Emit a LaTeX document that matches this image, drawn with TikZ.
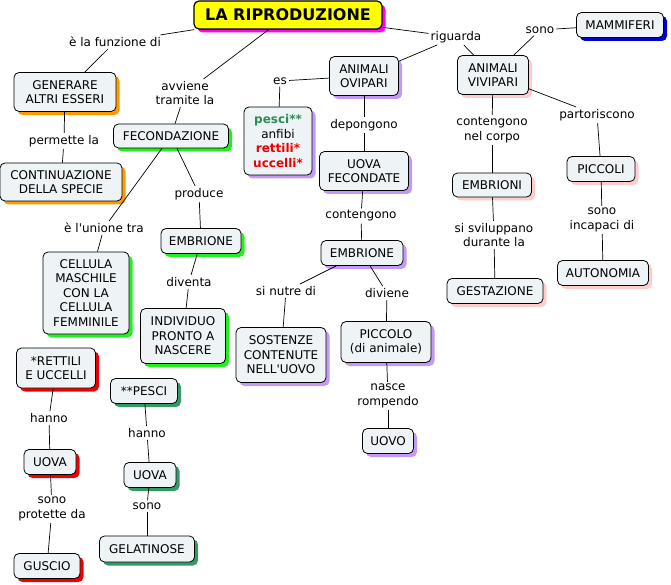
\documentclass[tikz,border=0pt]{standalone}
\usepackage{fontspec}
\setmainfont{DejaVu Sans}
\usetikzlibrary{shadows}
\definecolor{boxfill}{HTML}{EEF3F6}
\definecolor{shorange}{HTML}{FF9900}
\definecolor{shgreen}{HTML}{22EE22}
\definecolor{shpurple}{HTML}{C299F5}
\definecolor{shpink}{HTML}{FFCCCC}
\definecolor{shblue}{HTML}{0000CC}
\definecolor{shred}{HTML}{EE0000}
\definecolor{shdkgreen}{HTML}{339966}
\definecolor{shmagenta}{HTML}{FF00FF}
\definecolor{titlefill}{HTML}{FFFF00}
\definecolor{pescigreen}{HTML}{2E8B57}
\definecolor{rettred}{HTML}{EE0000}
\newcommand{\nf}{\fontsize{12}{14.5}\selectfont}
\tikzset{
  cbox/.style={draw=black, line width=0.8pt, rounded corners=5pt, fill=boxfill,
    align=center, inner sep=0pt, font=\nf},
  sh/.style={drop shadow={shadow xshift=3.5pt, shadow yshift=-3.5pt, fill=#1, opacity=1}},
  lab/.style={align=center, inner sep=2pt, font=\nf},
  conn/.style={draw=black, line width=0.7pt},
  sz/.style 2 args={minimum width=#1pt, minimum height=#2pt}
}
\begin{document}
\begin{tikzpicture}[x=1pt,y=-1pt]
\useasboundingbox (0,0) rectangle (671,585);
% title
\node[cbox, fill=titlefill, line width=1.2pt, sh=shmagenta, sz={188}{28}, font=\fontsize{16}{18}\selectfont\bfseries] (title) at (288,15) {LA RIPRODUZIONE};
% left branch
\node[cbox, sh=shorange, sz={102}{39}] (gen) at (65,92) {GENERARE\\ALTRI ESSERI};
\node[cbox, sh=shorange, sz={122}{38}] (cont) at (61,182) {CONTINUAZIONE\\DELLA SPECIE};
\node[cbox, sh=shgreen, sz={115}{24}] (fec) at (171,136) {FECONDAZIONE};
\node[cbox, sh=shgreen, sz={80}{25}] (embr1) at (201,241) {EMBRIONE};
\node[cbox, sh=shgreen, sz={86}{82}] (cell) at (86,293) {CELLULA\\MASCHILE\\CON LA\\CELLULA\\FEMMINILE};
\node[cbox, sh=shgreen, sz={85}{55}] (indiv) at (183,336) {INDIVIDUO\\PRONTO A\\NASCERE};
% ovipari
\node[cbox, sh=shpurple, sz={68}{68}] (pesci) at (278,141) {{\bfseries\color{pescigreen}pesci**}\\anfibi\\{\bfseries\color{rettred}rettili*}\\{\bfseries\color{rettred}uccelli*}};
\node[cbox, sh=shpurple, sz={69}{39}] (ovi) at (364,76) {ANIMALI\\OVIPARI};
\node[cbox, sh=shpurple, sz={89}{39}] (uova1) at (364,171) {UOVA\\FECONDATE};
\node[cbox, sh=shpurple, sz={82}{25}] (embr2) at (362,253) {EMBRIONE};
\node[cbox, sh=shpurple, sz={90}{55}] (sost) at (281,355) {SOSTENZE\\CONTENUTE\\NELL\textquotesingle UOVO};
\node[cbox, sh=shpurple, sz={90}{41}] (picc) at (386,342) {PICCOLO\\(di animale)};
\node[cbox, sh=shpurple, sz={51}{25}] (uovo) at (388,441) {UOVO};
% vivipari
\node[cbox, sh=shpink, sz={71}{39}] (vivi) at (493,75) {ANIMALI\\VIVIPARI};
\node[cbox, sh=shblue, sz={87}{25}] (mamm) at (620,25) {MAMMIFERI};
\node[cbox, sh=shpink, sz={79}{24}] (embri) at (492,185) {EMBRIONI};
\node[cbox, sh=shpink, sz={68}{25}] (piccoli) at (601,169) {PICCOLI};
\node[cbox, sh=shpink, sz={96}{25}] (gest) at (495,291) {GESTAZIONE};
\node[cbox, sh=shpink, sz={91}{25}] (auto) at (603,273) {AUTONOMIA};
% rettili / pesci
\node[cbox, sh=shred, sz={79}{40}] (rett) at (56,368) {*RETTILI\\E UCCELLI};
\node[cbox, sh=shred, sz={52}{25}] (uovar) at (50,462) {UOVA};
\node[cbox, sh=shred, sz={66}{25}] (gusc) at (47,566) {GUSCIO};
\node[cbox, sh=shdkgreen, sz={67}{25}] (pescb) at (144,391) {**PESCI};
\node[cbox, sh=shdkgreen, sz={52}{25}] (uovag) at (150,475) {UOVA};
\node[cbox, sh=shdkgreen, sz={95}{26}] (gelat) at (147,549) {GELATINOSE};
% labels
\node[lab] (l1) at (115,42) {è la funzione di};
\node[lab] (l2) at (185,93) {avviene\\tramite la};
\node[lab] (l3) at (456,37) {riguarda};
\node[lab] (l4) at (64,141) {permette la};
\node[lab] (l5) at (199,194) {produce};
\node[lab] (l6) at (104,228) {è l\textquotesingle unione tra};
\node[lab] (l7) at (189,282) {diventa};
\node[lab] (l8) at (280,81) {es};
\node[lab] (l9) at (364,125) {depongono};
\node[lab] (l10) at (361,216) {contengono};
\node[lab] (l11) at (286,291) {si nutre di};
\node[lab] (l12) at (387,293) {diviene};
\node[lab] (l13) at (388,396) {nasce\\rompendo};
\node[lab] (l14) at (540,30) {sono};
\node[lab] (l15) at (492,130) {contengono\\nel corpo};
\node[lab] (l16) at (597,115) {partoriscono};
\node[lab] (l17) at (494,235) {si sviluppano\\durante la};
\node[lab] (l18) at (602,220) {sono\\incapaci di};
\node[lab] (l19) at (49,418) {hanno};
\node[lab] (l20) at (52,509) {sono\\protette da};
\node[lab] (l21) at (147,433) {hanno};
\node[lab] (l22) at (147,506) {sono};
% connectors
\draw[conn] (title) -- (l1); \draw[conn] (l1) -- (gen);
\draw[conn] (gen) -- (l4); \draw[conn] (l4) -- (cont);
\draw[conn] (title) -- (l2); \draw[conn] (l2) -- (fec);
\draw[conn] (fec) -- (l5); \draw[conn] (l5) -- (embr1);
\draw[conn] (fec) -- (l6); \draw[conn] (l6) -- (cell);
\draw[conn] (embr1) -- (l7); \draw[conn] (l7) -- (indiv);
\draw[conn] (title) -- (l3); \draw[conn] (l3) -- (ovi); \draw[conn] (l3) -- (vivi);
\draw[conn] (ovi) -- (l8); \draw[conn] (l8) -- (pesci);
\draw[conn] (ovi) -- (l9); \draw[conn] (l9) -- (uova1);
\draw[conn] (uova1) -- (l10); \draw[conn] (l10) -- (embr2);
\draw[conn] (embr2) -- (l11); \draw[conn] (l11) -- (sost);
\draw[conn] (embr2) -- (l12); \draw[conn] (l12) -- (picc);
\draw[conn] (picc) -- (l13); \draw[conn] (l13) -- (uovo);
\draw[conn] (vivi) -- (l14); \draw[conn] (l14) -- (mamm);
\draw[conn] (vivi) -- (l15); \draw[conn] (l15) -- (embri);
\draw[conn] (vivi) -- (l16); \draw[conn] (l16) -- (piccoli);
\draw[conn] (embri) -- (l17); \draw[conn] (l17) -- (gest);
\draw[conn] (piccoli) -- (l18); \draw[conn] (l18) -- (auto);
\draw[conn] (rett) -- (l19); \draw[conn] (l19) -- (uovar);
\draw[conn] (uovar) -- (l20); \draw[conn] (l20) -- (gusc);
\draw[conn] (pescb) -- (l21); \draw[conn] (l21) -- (uovag);
\draw[conn] (uovag) -- (l22); \draw[conn] (l22) -- (gelat);
\end{tikzpicture}
\end{document}
